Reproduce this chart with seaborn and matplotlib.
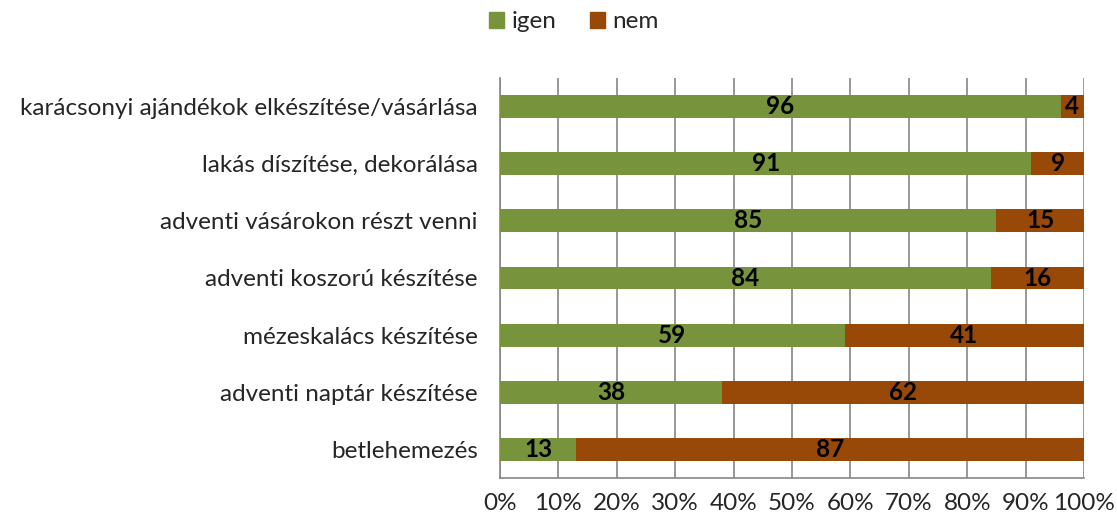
import numpy as np
import pandas as pd
import matplotlib
matplotlib.use("Agg")
import matplotlib.pyplot as plt
import seaborn as sns
from matplotlib.patches import Patch

# ===================== DATA =====================
categories = [
    "karácsonyi ajándékok elkészítése/vásárlása",
    "lakás díszítése, dekorálása",
    "adventi vásárokon részt venni",
    "adventi koszorú készítése",
    "mézeskalács készítése",
    "adventi naptár készítése",
    "betlehemezés",
]
igen = [96, 91, 85, 84, 59, 38, 13]
nem = [4, 9, 15, 16, 41, 62, 87]

GREEN = "#77933C"
BROWN = "#984807"
GRID = "#868686"

sns.set_style("white")
plt.rcParams["font.family"] = ["Lato", "DejaVu Sans"]

df = pd.DataFrame({"kategoria": categories, "igen": igen, "nem": nem})
df["osszes"] = df["igen"] + df["nem"]

fig = plt.figure(figsize=(11.17, 5.22), dpi=100)
ax = fig.add_axes([500 / 1117, 1 - 478 / 522, 584 / 1117, 400 / 522])

# stacked: total (nem on the right) first, then igen on top
sns.barplot(data=df, y="kategoria", x="osszes", color=BROWN, orient="h",
            width=0.4, saturation=1, linewidth=0, ax=ax, zorder=2)
sns.barplot(data=df, y="kategoria", x="igen", color=GREEN, orient="h",
            width=0.4, saturation=1, linewidth=0, ax=ax, zorder=3)

# value labels
for i, (g, n) in enumerate(zip(igen, nem)):
    ax.text(g / 2, i, str(g), ha="center", va="center", fontsize=17.5,
            fontweight="bold", color="black", zorder=4)
    ax.text(g + n / 2, i, str(n), ha="center", va="center", fontsize=17.5,
            fontweight="bold", color="black", zorder=4)

ax.set_xlim(0, 100)
ax.set_ylim(len(categories) - 0.5, -0.5)
ax.set_xticks(np.arange(0, 101, 10))
ax.set_xticklabels([f"{v}%" for v in range(0, 101, 10)], fontsize=17.5)
ax.tick_params(axis="x", length=6, width=1.2, color=GRID, pad=5)
ax.set_yticks(range(len(categories)))
ax.set_yticklabels(categories, fontsize=17.5)
ax.set_yticks(np.arange(-0.5, len(categories), 1), minor=True)
ax.tick_params(axis="y", which="major", length=0, pad=16)
ax.tick_params(axis="y", which="minor", length=6, width=1.2, color=GRID)
ax.set_xlabel("")
ax.set_ylabel("")

ax.grid(axis="x", color=GRID, linewidth=1.2, zorder=0)
ax.set_axisbelow(True)
for side in ["top", "right"]:
    ax.spines[side].set_visible(False)
for side in ["left", "bottom"]:
    ax.spines[side].set_color(GRID)
    ax.spines[side].set_linewidth(1.2)

handles = [Patch(color=GREEN, label="igen"), Patch(color=BROWN, label="nem")]
fig.legend(handles=handles, loc="center", bbox_to_anchor=(574 / 1117, 1 - 22 / 522),
           ncol=2, frameon=False, fontsize=17.5, handlelength=0.6, handleheight=0.6,
           handletextpad=0.3, columnspacing=1.4)

fig.savefig("out.png", dpi=100)
